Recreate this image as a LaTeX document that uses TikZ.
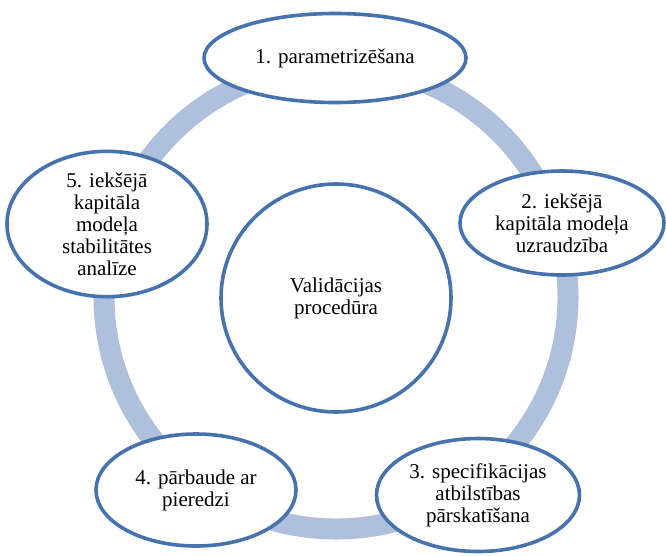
\documentclass[tikz,border=0pt]{standalone}
\usepackage{fontspec}
\setmainfont{Liberation Serif}
\usetikzlibrary{shapes.geometric}
\definecolor{ringc}{HTML}{AFC0DD}
\definecolor{edgec}{HTML}{4672AE}
\begin{document}
\begin{tikzpicture}[x=1pt,y=-1pt,
  stage/.style={ellipse,draw=edgec,line width=3.6pt,fill=white,inner sep=0pt,
    align=center,font=\fontsize{21}{22}\selectfont},
  ringline/.style={draw=ringc,line width=21pt}]
\useasboundingbox (0,0) rectangle (666,555);
\fill[white] (0,0) rectangle (666,555);
\coordinate (c) at (336,297);
\draw[ringline] (c) circle[radius=232];
\node[stage,minimum width=230,minimum height=228] (v) at (336,298) {Validācijas\\procedūra};
\node[stage,minimum width=262,minimum height=89] (s1) at (335,58) {1. parametrizēšana};
\node[stage,minimum width=204,minimum height=104] (s2) at (562,223) {2. iekšējā\\kapitāla modeļa\\uzraudzība};
\node[stage,minimum width=203,minimum height=113] (s3) at (478,495) {3. specifikācijas\\atbilstības\\pārskatīšana};
\node[stage,minimum width=200,minimum height=112] (s4) at (196,490) {4. pārbaude ar\\pieredzi};
\node[stage,minimum width=200,minimum height=122] (s5) at (107,224) {5. iekšējā\\kapitāla\\modeļa\\stabilitātes\\analīze};
\end{tikzpicture}
\end{document}
